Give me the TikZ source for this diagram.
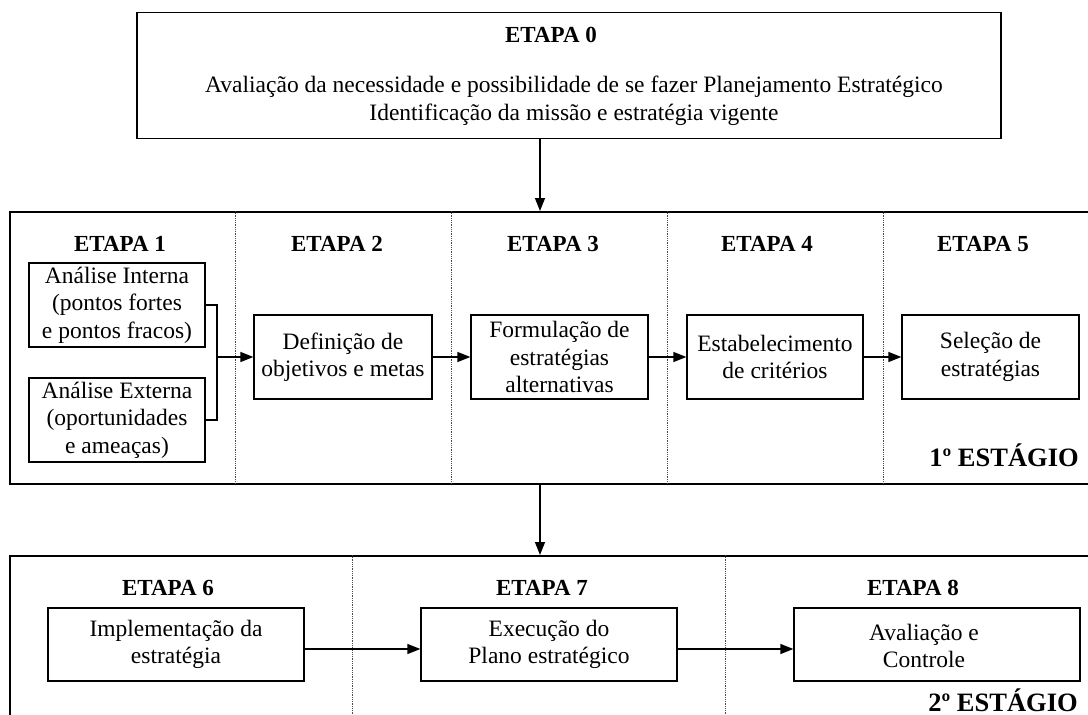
\documentclass[tikz,border=0pt]{standalone}
\usepackage{fontspec}
\setmainfont{Liberation Serif}
\usetikzlibrary{arrows.meta}
\newcommand\bodyfnt{\fontsize{23.5}{27.5}\selectfont}
\newcommand\headfnt{\fontsize{23}{27}\selectfont\bfseries}
\newcommand\stagefnt{\fontsize{26.5}{30}\selectfont\bfseries}
\begin{document}
\begin{tikzpicture}[x=1pt,y=-1pt,
  frame/.style={draw, line width=1.6pt, inner sep=0pt},
  stepbox/.style={draw, line width=1.3pt, inner sep=0pt, align=center, font=\bodyfnt},
  bodytxt/.style={inner sep=0pt, align=center, font=\bodyfnt},
  headtxt/.style={inner sep=0pt, font=\headfnt},
  stagetxt/.style={inner sep=0pt, font=\stagefnt},
  divider/.style={draw=black!70, line width=0.8pt, densely dotted},
  wire/.style={line width=1.3pt},
  conn/.style={line width=1.3pt, -{Triangle[length=13pt,width=10pt]}}]
\useasboundingbox (0,0) rectangle (1088,715);

% ---- stage 0 ----
\node[frame, minimum width=864pt, minimum height=126pt] (e0) at (569,75.5) {};
\node[headtxt] (h0) at (551,35) {ETAPA 0};
\node[bodytxt] (t0) at (574,101) {Avaliação da necessidade e possibilidade de se fazer Planejamento Estratégico\\Identificação da missão e estratégia vigente};

% ---- first stage frame and column dividers ----
\node[frame, anchor=north west, minimum width=1095pt, minimum height=272pt] (s1) at (9,211) {};
\coordinate (d1) at (235,0);
\coordinate (d2) at (451,0);
\coordinate (d3) at (667,0);
\coordinate (d4) at (883,0);
\foreach \d in {d1,d2,d3,d4}
  \draw[divider] (s1.north -| \d) -- (s1.south -| \d);

\node[headtxt] (h1) at (120,244) {ETAPA 1};
\node[headtxt] (h2) at (337,244) {ETAPA 2};
\node[headtxt] (h3) at (553,244) {ETAPA 3};
\node[headtxt] (h4) at (767,244) {ETAPA 4};
\node[headtxt] (h5) at (983,244) {ETAPA 5};

\node[stepbox, minimum width=176pt, minimum height=84pt] (int) at (117,305)
  {Análise Interna\\(pontos fortes\\e pontos fracos)};
\node[stepbox, minimum width=176pt, minimum height=84pt] (ext) at (117,420)
  {Análise Externa\\(oportunidades\\e ameaças)};
\node[stepbox, minimum width=178pt, minimum height=84pt] (b2) at (343,357)
  {Definição de\\objetivos e metas};
\node[stepbox, minimum width=177pt, minimum height=84pt] (b3) at (559.5,357)
  {Formulação de\\estratégias\\alternativas};
\node[stepbox, minimum width=176pt, minimum height=84pt] (b4) at (775,357)
  {Estabelecimento\\de critérios};
\node[stepbox, minimum width=177pt, minimum height=84pt] (b5) at (990.5,357)
  {Seleção de\\estratégias};

\coordinate (brk) at (217,357);
\draw[wire] (int.east) -| (brk) |- (ext.east);
\draw[conn] (brk) -- (b2.west);
\draw[conn] (b2.east) -- (b3.west);
\draw[conn] (b3.east) -- (b4.west);
\draw[conn] (b4.east) -- (b5.west);

\node[stagetxt] (st1) at (1004,455) {1º ESTÁGIO};

% ---- second stage frame ----
\node[frame, anchor=north west, minimum width=1095pt, minimum height=210pt] (s2) at (9,555) {};
\coordinate (d5) at (352,0);
\coordinate (d6) at (725,0);
\foreach \d in {d5,d6}
  \draw[divider] (s2.north -| \d) -- (s2.south -| \d);

\node[headtxt] (h6) at (168,588) {ETAPA 6};
\node[headtxt] (h7) at (542,588) {ETAPA 7};
\node[headtxt] (h8) at (913,588) {ETAPA 8};

\node[stepbox, minimum width=256pt, minimum height=73pt] (b6) at (176,644.5)
  {Implementação da\\estratégia};
\node[stepbox, minimum width=256pt, minimum height=73pt] (b7) at (549,644.5)
  {Execução do\\Plano estratégico};
\node[stepbox, minimum width=286pt, minimum height=73pt] (b8) at (937,644.5) {};
\node[bodytxt] (t8) at (924,646) {Avaliação e\\Controle};

\coordinate (row2) at (0,649);
\draw[conn] (b6.east |- row2) -- (b7.west |- row2);
\draw[conn] (b7.east |- row2) -- (b8.west |- row2);

\node[stagetxt] (st2) at (1003,700) {2º ESTÁGIO};

% ---- links between stages ----
\coordinate (ax) at (540,0);
\draw[conn] (e0.south -| ax) -- (s1.north -| ax);
\draw[conn] (s1.south -| ax) -- (s2.north -| ax);
\end{tikzpicture}
\end{document}
